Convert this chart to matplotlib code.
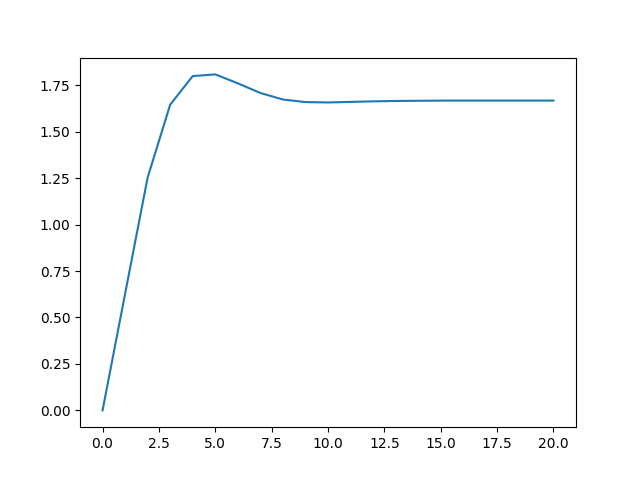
import numpy as np
import matplotlib
matplotlib.use("Agg")
import matplotlib.pyplot as plt

# step response
t = list(range(21))
y = [0.0, 0.627, 1.253, 1.645, 1.799, 1.808, 1.760, 1.708, 1.673, 1.659,
     1.657, 1.660, 1.663, 1.665, 1.666, 1.667, 1.667, 1.667, 1.667, 1.667, 1.667]

fig, ax = plt.subplots(figsize=(6.4, 4.8), dpi=100)
ax.plot(t, y)
fig.savefig("out.png")
